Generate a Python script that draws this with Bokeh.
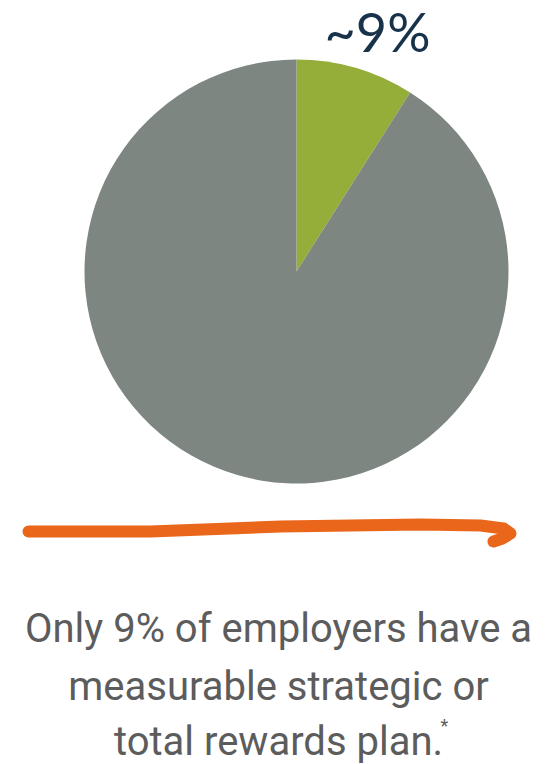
from math import pi
from bokeh.plotting import figure
from bokeh.models import Range1d
from bokeh.core.properties import value
from bokeh.embed import file_html
from bokeh.resources import INLINE

# data
labels = ["Measurable plan", "No measurable plan"]
shares = [9, 91]
colors = ["#95AE3A", "#7E8681"]
headline = "~9%"
caption = ["Only 9% of employers have a", "measurable strategic or", "total rewards plan."]

W, H = 547, 764
p = figure(width=W, height=H, output_backend="svg", toolbar_location=None,
           x_range=Range1d(0, W), y_range=Range1d(0, H), min_border=0)
p.axis.visible = False
p.grid.visible = False
p.outline_line_color = None
p.background_fill_color = "white"

# pie
cx, cy, r = 296, H - 271, 212
start = pi / 2
total = sum(shares)
for s, c in zip(shares, colors):
    sweep = 2 * pi * s / total
    p.wedge(x=cx, y=cy, radius=r, start_angle=start - sweep, end_angle=start,
            fill_color=c, line_color=None)
    start -= sweep

# headline label
p.text(x=[377], y=[H - 31], text=[headline], text_align="center", text_baseline="alphabetic",
       text_font=value("Lato"), text_font_size="54px", text_color="#17324A")

# orange hand-drawn stroke
sx = [28, 150, 280, 420, 480, 503, 510, 502, 493]
sy = [531, 531, 526, 524, 525, 528, 533, 538, 541]
p.line(x=sx, y=[H - v for v in sy], line_color="#E9661A", line_width=12,
       line_cap="round", line_join="round")

font = value("Roboto")
# caption
ys = [H - 628, H - 686, H - 741]
p.text(x=[278, 278, 278], y=ys, text=caption, text_align="center", text_baseline="alphabetic",
       text_font=font, text_font_size="40px", text_color="#5C5C5C")
p.text(x=[440], y=[H - 725], text=["*"], text_align="left", text_baseline="alphabetic",
       text_font=font, text_font_size="18px", text_color="#5C5C5C")

open("out.html", "w").write(file_html(p, INLINE))
